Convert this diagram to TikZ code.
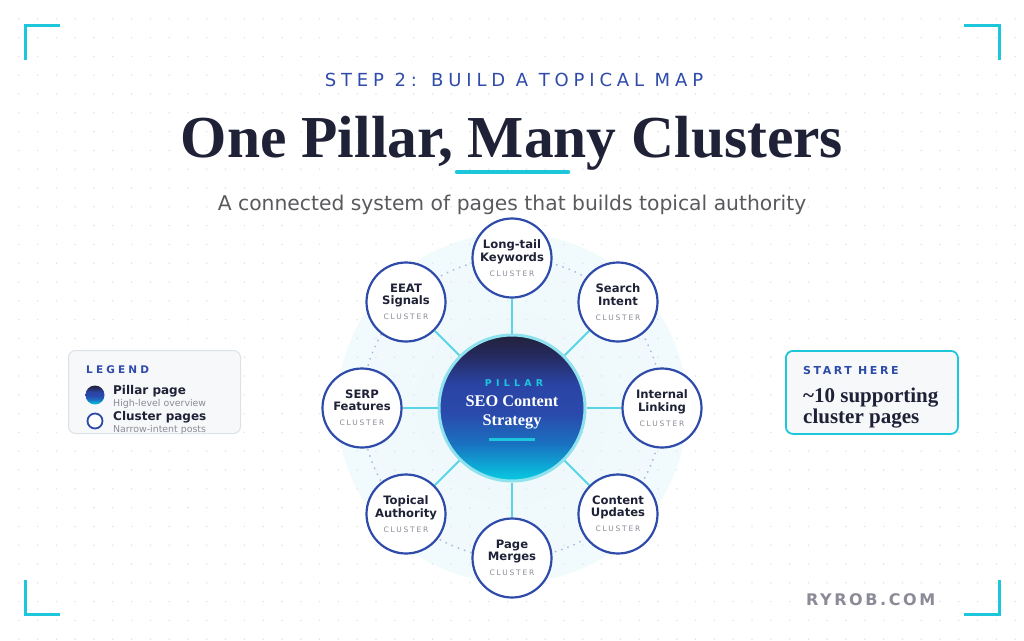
\documentclass[tikz,border=0pt]{standalone}
\usepackage{fontspec}
\usepackage{tikz}
\usetikzlibrary{positioning,calc}
\setmainfont{DejaVu Sans}
\newfontfamily\headserif{Liberation Serif}
\newcommand\tracked[1]{\addfontfeature{LetterSpace=#1}}
\definecolor{inkdark}{HTML}{1F2137}
\definecolor{brandblue}{HTML}{2E4BAA}
\definecolor{accentcyan}{HTML}{1CC7DB}
\definecolor{spokecyan}{HTML}{5AD5E6}
\definecolor{subgray}{HTML}{5A5A5E}
\definecolor{labelgray}{HTML}{8A8B96}
\definecolor{dotgray}{HTML}{E3E6EC}
\definecolor{ringdot}{HTML}{A9BAE2}
\definecolor{pillartop}{HTML}{22213C}
\definecolor{pillarnavy}{HTML}{252A5E}
\definecolor{pillarmid}{HTML}{2A44A4}
\definecolor{pillarblue}{HTML}{2A4AAC}
\definecolor{pillarsky}{HTML}{1A70C0}
\definecolor{pillarbot}{HTML}{06CCE2}
\definecolor{ringcyan}{HTML}{8EE2EE}
\definecolor{boxfill}{HTML}{F6F8FA}
\definecolor{boxline}{HTML}{DDE2E8}
\definecolor{halo}{HTML}{EDF8FB}
\pgfdeclareradialshading{haloglow}{\pgfpoint{0bp}{0bp}}{color(0bp)=(halo);
  color(25bp)=(halo!75!white); color(50bp)=(white)}
\pgfdeclareverticalshading{pillarfill}{100bp}{color(0bp)=(pillarbot);
  color(25bp)=(pillarbot); color(38bp)=(pillarsky); color(48bp)=(pillarblue);
  color(58bp)=(pillarmid); color(68bp)=(pillarnavy); color(75bp)=(pillartop);
  color(100bp)=(pillartop)}
\newcommand\cl[2]{#1\\#2\\[2.7pt]{\mdseries\fontsize{7.5}{9}\selectfont
  \color{labelgray}\tracked{24}CLUSTER}}

\begin{document}
\begin{tikzpicture}[x=1pt,y=-1pt,
  txt/.style={inner sep=0},
  cluster/.style={circle,draw=brandblue,line width=2.2,fill=white,minimum size=79,
                  inner sep=0,align=center,text=inkdark,
                  font=\fontsize{11.6}{12.3}\selectfont\bfseries},
  spoke/.style={draw=spokecyan,line width=2},
  corner/.style={draw=accentcyan,line width=3},
  panel/.style={rounded corners=7,minimum width=172,minimum height=83,anchor=north west},
]
  \useasboundingbox[fill=white] (0,0) rectangle (1024,640);
  \shade[shading=haloglow] (512,408) circle (175);
  \foreach \gx in {1,...,54}
    \foreach \gy in {1,...,34}
      \fill[dotgray] (\gx*18.8,\gy*18.8) circle (0.9);

  % corner marks
  \draw[corner] (25,60) -- (25,25) -- (60,25);
  \draw[corner] (964,25) -- (999,25) -- (999,60);
  \draw[corner] (25,580) -- (25,614) -- (60,614);
  \draw[corner] (964,614) -- (999,614) -- (999,580);

  % heading
  \node[txt,anchor=base,text=brandblue,font=\fontsize{18}{20}\selectfont] (step) at (514,86)
    {\tracked{27}STEP 2: BUILD A TOPICAL MAP};
  \node[txt,anchor=base,text=inkdark,font=\headserif\bfseries\fontsize{59.5}{62}\selectfont]
    (title) at (512,157) {One Pillar, Many Clusters};
  \draw[accentcyan,line width=4.5,line cap=round] (457,172) -- (568,172);
  \node[txt,anchor=base,text=subgray,font=\fontsize{20.3}{22}\selectfont] (subtitle) at (512,210)
    {A connected system of pages that builds topical authority};

  % map
  \draw[ringdot,line width=2,dash pattern=on 0.1 off 6.5,line cap=round] (512,408) circle (150);
  \node[circle,minimum size=146,inner sep=0,shading=pillarfill,
        draw=ringcyan,line width=3] (pillar) at (512,408) {};
  \node[cluster] (longtail) at (512,258) {\cl{Long-tail}{Keywords}};
  \node[cluster] (intent)   at (618,302) {\cl{Search}{Intent}};
  \node[cluster] (linking)  at (662,408) {\cl{Internal}{Linking}};
  \node[cluster] (updates)  at (618,514) {\cl{Content}{Updates}};
  \node[cluster] (merges)   at (512,558) {\cl{Page}{Merges}};
  \node[cluster] (topical)  at (406,514) {\cl{Topical}{Authority}};
  \node[cluster] (serp)     at (362,408) {\cl{SERP}{Features}};
  \node[cluster] (eeat)     at (406,302) {\cl{EEAT}{Signals}};
  \draw[spoke] (pillar) -- (longtail);
  \draw[spoke] (pillar) -- (intent);
  \draw[spoke] (pillar) -- (linking);
  \draw[spoke] (pillar) -- (updates);
  \draw[spoke] (pillar) -- (merges);
  \draw[spoke] (pillar) -- (topical);
  \draw[spoke] (pillar) -- (serp);
  \draw[spoke] (pillar) -- (eeat);

  \node[txt,anchor=base,text=accentcyan,font=\bfseries\fontsize{9.4}{10}\selectfont]
    (pillartag) at (514,386) {\tracked{45}PILLAR};
  \node[txt,anchor=base,text=white,font=\headserif\bfseries\fontsize{16.3}{18}\selectfont]
    (pillarname) at (512,406) {SEO Content};
  \node[txt,anchor=base,text=white,font=\headserif\bfseries\fontsize{16.3}{18}\selectfont]
    (pillarname2) at (512,425) {Strategy};
  \draw[accentcyan,line width=3] (489,439) -- (535,439);

  % legend
  \node[panel,draw=boxline,fill=boxfill,line width=1] (legend) at (68,350) {};
  \node[txt,anchor=base west,text=brandblue,font=\bfseries\fontsize{10.5}{12}\selectfont]
    (legendhead) at (86,373.5) {\tracked{30}LEGEND};
  \node[circle,minimum size=19,inner sep=0,shading=pillarfill] (pillarkey) at (95,395) {};
  \node[circle,minimum size=15,inner sep=0,draw=brandblue,line width=1.8,fill=white]
    (clusterkey) at (95,421) {};
  \node[txt,anchor=base west,text=inkdark,font=\bfseries\fontsize{12}{13}\selectfont]
    (pillarkeytxt) at (113,394.3) {Pillar page};
  \node[txt,anchor=base west,text=labelgray,font=\fontsize{9.4}{10}\selectfont]
    (pillarkeysub) at (113,406.7) {High-level overview};
  \node[txt,anchor=base west,text=inkdark,font=\bfseries\fontsize{12}{13}\selectfont]
    (clusterkeytxt) at (113,420) {Cluster pages};
  \node[txt,anchor=base west,text=labelgray,font=\fontsize{9.4}{10}\selectfont]
    (clusterkeysub) at (113,432) {Narrow-intent posts};

  % start here
  \node[panel,draw=accentcyan,fill=boxfill,line width=1.8] (starthere) at (785,350) {};
  \node[txt,anchor=base west,text=brandblue,font=\bfseries\fontsize{11}{12}\selectfont]
    (starthead) at (803,374) {\tracked{23}START HERE};
  \node[txt,anchor=base west,text=inkdark,font=\headserif\bfseries\fontsize{21}{21}\selectfont]
    (startline1) at (803,402) {\textasciitilde 10 supporting};
  \node[txt,anchor=base west,text=inkdark,font=\headserif\bfseries\fontsize{21}{21}\selectfont]
    (startline2) at (803,423) {cluster pages};

  \node[txt,anchor=base west,text=labelgray,font=\bfseries\fontsize{16}{18}\selectfont]
    (brand) at (806,605) {\tracked{16}RYROB.COM};
\end{tikzpicture}
\end{document}
